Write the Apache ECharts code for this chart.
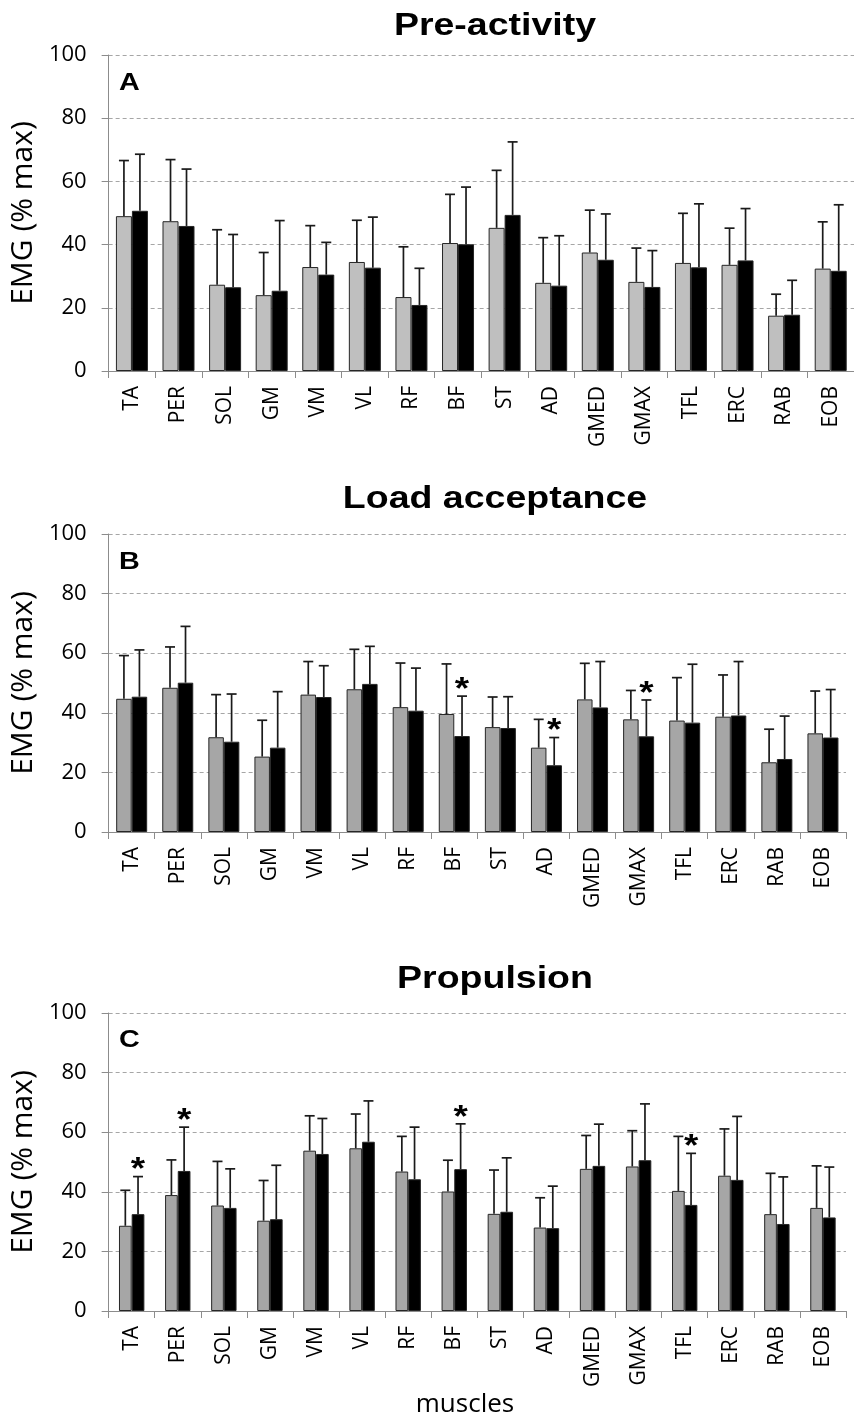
<!DOCTYPE html>
<html><head><meta charset="utf-8">
<script src="https://cdn.jsdelivr.net/npm/echarts@6/dist/echarts.min.js"></script>
<style>html,body{margin:0;padding:0;background:#fff}#c{width:854px;height:1420px}</style>
</head><body><div id="c"></div>
<script>
const muscles = ['TA','PER','SOL','GM','VM','VL','RF','BF','ST','AD','GMED','GMAX','TFL','ERC','RAB','EOB'];
const yTicks = [0,20,40,60,80,100];
const panelTitles = ['Pre-activity','Load acceptance','Propulsion'];
const panelLetters = ['A','B','C'];

// Panel A: Pre-activity
const preGrayMean  = [49.0,47.4,27.3,24.0,32.9,34.5,23.4,40.5,45.3,27.9,37.5,28.2,34.2,33.6,17.5,32.4];
const preGraySD    = [17.6,19.5,17.4,13.5,13.1,13.2,15.9,15.4,18.2,14.3,13.4,10.7,15.7,11.6,6.8,14.8];
const preBlackMean = [50.7,45.9,26.5,25.4,30.5,32.7,20.9,40.1,49.4,27.0,35.2,26.6,32.8,35.0,17.8,31.7];
const preBlackSD   = [17.9,18.0,16.7,22.2,10.2,16.0,11.6,18.1,23.1,15.8,14.5,11.5,20.1,16.4,10.9,20.9];
const preSig = [];

// Panel B: Load acceptance
const loadGrayMean  = [44.7,48.4,31.8,25.3,46.1,47.9,41.9,39.6,35.2,28.3,44.5,37.8,37.4,38.7,23.4,33.1];
const loadGraySD    = [14.5,13.7,14.3,12.2,11.1,13.4,14.8,16.8,10.1,9.5,12.1,9.7,14.4,14.0,11.1,14.2];
const loadBlackMean = [45.4,50.1,30.3,28.3,45.3,49.7,40.7,32.2,34.9,22.4,41.8,32.1,36.7,39.1,24.5,31.7];
const loadBlackSD   = [15.7,18.9,16.0,18.8,10.5,12.6,14.3,13.4,10.5,9.3,15.4,12.2,19.6,18.1,14.4,16.1];
const loadSig = ['BF','AD','GMAX'];

// Panel C: Propulsion
const propGrayMean  = [28.6,38.9,35.4,30.3,53.8,54.6,46.8,40.1,32.6,28.0,47.7,48.5,40.3,45.4,32.5,34.6];
const propGraySD    = [11.9,11.8,14.8,13.5,11.7,11.5,11.8,10.5,14.7,10.0,11.2,12.0,18.3,15.7,13.7,14.1];
const propBlackMean = [32.5,47.0,34.6,30.8,52.7,56.8,44.2,47.6,33.3,27.8,48.7,50.6,35.6,44.0,29.2,31.4];
const propBlackSD   = [12.6,14.7,13.1,18.1,11.9,13.7,17.5,15.2,18.1,14.1,14.0,18.9,17.3,21.3,15.8,16.9];
const propSig = ['TA','PER','BF','TFL'];

const panels = [
  {gm:preGrayMean, gs:preGraySD, bm:preBlackMean, bs:preBlackSD, sig:preSig, gray:'#bfbfbf', bw:16,
   grid:{left:104, top:55, width:757, height:316}, titleY:26, letterY:84},
  {gm:loadGrayMean, gs:loadGraySD, bm:loadBlackMean, bs:loadBlackSD, sig:loadSig, gray:'#a6a6a6', bw:15.5,
   grid:{left:104, top:534, width:742, height:298}, titleY:499, letterY:563},
  {gm:propGrayMean, gs:propGraySD, bm:propBlackMean, bs:propBlackSD, sig:propSig, gray:'#a6a6a6', bw:12.7,
   grid:{left:104, top:1013, width:742, height:298}, titleY:979, letterY:1041}
];

const FONT = '"Open Sans", "DejaVu Sans", sans-serif';
const BOLD = '"Liberation Sans", Arial, sans-serif';
const grids = [], xAxes = [], yAxes = [], series = [], graphics = [];

panels.forEach((p, k) => {
  grids.push(Object.assign({containLabel:false}, p.grid));
  xAxes.push({
    type:'category', gridIndex:k, data:muscles, boundaryGap:true,
    axisLine:{show:true, lineStyle:{color:'#8c8c8c', width:1}},
    axisTick:{show:true, length:7, alignWithLabel:false, lineStyle:{color:'#8c8c8c'}},
    axisLabel:{rotate:90, fontSize:21, color:'#000', fontFamily:FONT, margin:15, interval:0},
    splitLine:{show:false}
  });
  yAxes.push({
    type:'value', gridIndex:k, min:0, max:100, interval:20,
    name:'EMG (% max)', nameLocation:'middle', nameGap:64,
    nameTextStyle:{fontSize:30, color:'#000', fontFamily:FONT},
    axisLine:{show:true, lineStyle:{color:'#8c8c8c', width:1}},
    axisTick:{show:true, length:7, lineStyle:{color:'#8c8c8c'}},
    axisLabel:{fontSize:22, color:'#000', fontFamily:FONT, margin:22,
      formatter:(v)=> yTicks.includes(v) ? String(v) : ''},
    splitLine:{show:true, lineStyle:{color:'#a6a6a6', type:[4,3], width:1}}
  });
  const bar = (data, color) => ({
    type:'bar', xAxisIndex:k, yAxisIndex:k, data:data, barWidth:p.bw, barGap:'0%',
    itemStyle:{color:color, borderColor:'#262626', borderWidth:1}, z:2, silent:true
  });
  series.push(bar(p.gm, p.gray));
  series.push(bar(p.bm, '#000000'));
  const errData = [];
  muscles.forEach((m, i) => {
    errData.push([i, p.gm[i], p.gs[i], -1, 0]);
    errData.push([i, p.bm[i], p.bs[i], 1, p.sig.includes(m) ? 1 : 0]);
  });
  const bw = p.bw;
  series.push({
    type:'custom', xAxisIndex:k, yAxisIndex:k, data:errData, z:5, silent:true,
    encode:{x:0, y:1},
    renderItem:(params, api) => {
      const i = api.value(0), mean = api.value(1), sd = api.value(2), side = api.value(3), sig = api.value(4);
      const b = api.coord([i, mean]);
      const t = api.coord([i, mean + sd]);
      const cx = b[0] + side * bw / 2;
      const cap = 5;
      const children = [
        {type:'line', shape:{x1:cx, y1:b[1], x2:cx, y2:t[1]}, style:{stroke:'#1a1a1a', lineWidth:1.7}},
        {type:'line', shape:{x1:cx-cap, y1:t[1], x2:cx+cap, y2:t[1]}, style:{stroke:'#1a1a1a', lineWidth:1.7}}
      ];
      if (sig) {
        children.push({type:'text', x:cx, y:t[1]-6, scaleX:1.15,
          style:{text:'*', fill:'#000', fontSize:32, fontWeight:'bold', fontFamily:BOLD, align:'center', verticalAlign:'middle'}});
      }
      return {type:'group', children};
    }
  });
  graphics.push({type:'text', x:495, y:p.titleY, scaleX:1.21,
    style:{text:panelTitles[k], fill:'#000', fontSize:31, fontWeight:'bold', fontFamily:BOLD, align:'center', verticalAlign:'middle'}});
  graphics.push({type:'text', x:119, y:p.letterY, scaleX:1.25,
    style:{text:panelLetters[k], fill:'#000', fontSize:23, fontWeight:'bold', fontFamily:BOLD, align:'left', verticalAlign:'middle'}});
});
graphics.push({type:'text', x:465, y:1405,
  style:{text:'muscles', fill:'#000', fontSize:26, fontFamily:FONT, align:'center', verticalAlign:'middle'}});

const chart = echarts.init(document.getElementById('c'), null, {renderer:'canvas'});
chart.setOption({
  animation:false, backgroundColor:'#fff',
  grid:grids, xAxis:xAxes, yAxis:yAxes, series:series, graphic:graphics
});
</script></body></html>
